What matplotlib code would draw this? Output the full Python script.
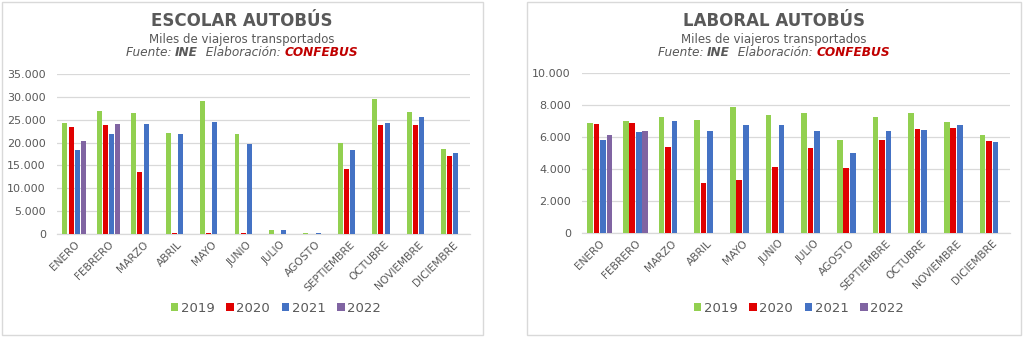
import numpy as np
import matplotlib
matplotlib.use("Agg")
import matplotlib.pyplot as plt
from matplotlib.patches import Rectangle

plt.rcParams['font.family'] = ['DejaVu Sans']

months = ["ENERO", "FEBRERO", "MARZO", "ABRIL", "MAYO", "JUNIO", "JULIO",
          "AGOSTO", "SEPTIEMBRE", "OCTUBRE", "NOVIEMBRE", "DICIEMBRE"]
years = ["2019", "2020", "2021", "2022"]
nan = np.nan

# Escolar (miles de viajeros)
escolar_2019 = [24300, 26800, 26400, 22200, 29000, 21900, 870, 150, 19900, 29600, 26700, 18700]
escolar_2020 = [23500, 23800, 13500, 150, 150, 150, 100, 100, 14200, 23800, 23800, 17000]
escolar_2021 = [18400, 21800, 24000, 21900, 24600, 19600, 870, 150, 18300, 24200, 25600, 17700]
escolar_2022 = [20300, 24100, nan, nan, nan, nan, nan, nan, nan, nan, nan, nan]

# Laboral (miles de viajeros)
laboral_2019 = [6870, 7000, 7250, 7040, 7850, 7340, 7500, 5790, 7210, 7460, 6920, 6120]
laboral_2020 = [6790, 6870, 5380, 3130, 3290, 4090, 5310, 4060, 5790, 6480, 6520, 5730]
laboral_2021 = [5790, 6290, 7000, 6340, 6750, 6730, 6380, 4960, 6380, 6420, 6710, 5670]
laboral_2022 = [6090, 6380, nan, nan, nan, nan, nan, nan, nan, nan, nan, nan]

colors = ["#92D050", "#E00000", "#4472C4", "#8064A2"]
TXT = "#595959"
GRID = "#D9D9D9"

W, H = 1024, 337
fig = plt.figure(figsize=(W / 100, H / 100), dpi=100)
fig.patch.set_facecolor("white")


def px(x0, y0, x1, y1):
    return [x0 / W, 1 - y1 / H, (x1 - x0) / W, (y1 - y0) / H]


# panel frames
for (x0, x1) in [(2, 483), (527, 1021)]:
    fig.patches.append(Rectangle((x0 / W, 2 / H), (x1 - x0) / W, (H - 4) / H,
                                 transform=fig.transFigure, fill=False,
                                 edgecolor=GRID, linewidth=1.0))


def fmt(v, _):
    return f"{int(v):,}".replace(",", ".")


def header(cx, title):
    fig.text(cx / W, 1 - 21 / H, title, ha="center", va="center",
             fontsize=12, fontweight="bold", color=TXT)
    fig.text(cx / W, 1 - 39 / H, "Miles de viajeros transportados",
             ha="center", va="center", fontsize=8.5, color=TXT)
    parts = [("Fuente: ", "normal", TXT), ("INE", "bold", TXT),
             ("  Elaboración: ", "normal", TXT), ("CONFEBUS", "bold", "#C00000")]
    r = fig.canvas.get_renderer()
    texts, widths = [], []
    for s, w, c in parts:
        t = fig.text(0, 1 - 53 / H, s, ha="left", va="center", fontsize=8.7,
                     style="italic", fontweight=w, color=c)
        texts.append(t)
        widths.append(t.get_window_extent(r).width)
    total = sum(widths)
    x = cx - total / 2
    for t, wdt in zip(texts, widths):
        t.set_x(x / W)
        x += wdt


def panel(rect, series, ymax, step, legend_cx, width, pitch):
    ax = fig.add_axes(rect)
    x = np.arange(len(months))
    for i, (vals, c, lab) in enumerate(zip(series, colors, years)):
        ax.bar(x + (i - 1.5) * pitch, vals, width=width, color=c, label=lab,
               linewidth=0, zorder=3)
    ax.set_xlim(-0.5, len(months) - 0.5)
    ax.set_ylim(0, ymax)
    ax.set_yticks(np.arange(0, ymax + 1, step))
    ax.yaxis.set_major_formatter(matplotlib.ticker.FuncFormatter(fmt))
    ax.grid(axis="y", color=GRID, linewidth=0.9, zorder=0)
    for s in ["top", "right", "left"]:
        ax.spines[s].set_visible(False)
    ax.spines["bottom"].set_color(GRID)
    ax.spines["bottom"].set_linewidth(0.9)
    ax.tick_params(axis="both", length=0, colors=TXT, labelsize=8)
    ax.tick_params(axis="y", pad=8)
    ax.set_xticks(x)
    ax.set_xticklabels(months, rotation=45, ha="right", rotation_mode="anchor",
                       fontsize=7.7, color=TXT)
    ax.tick_params(axis="x", pad=4)
    leg = fig.legend(*ax.get_legend_handles_labels(), loc="center",
                     bbox_to_anchor=(legend_cx / W, 1 - 308 / H), ncol=4,
                     frameon=False, fontsize=9.5, handlelength=0.55,
                     handleheight=0.55, handletextpad=0.2, columnspacing=0.9)
    for t in leg.get_texts():
        t.set_color(TXT)
    return ax


header(242, "ESCOLAR AUTOBÚS")
header(774, "LABORAL AUTOBÚS")

panel(px(57, 74, 470, 234),
      [escolar_2019, escolar_2020, escolar_2021, escolar_2022],
      35000, 5000, 276, 0.145, 0.18)
panel(px(582, 72.7, 1010, 232.7),
      [laboral_2019, laboral_2020, laboral_2021, laboral_2022],
      10000, 2000, 799, 0.155, 0.182)

fig.savefig("out.png", dpi=100, facecolor="white")
